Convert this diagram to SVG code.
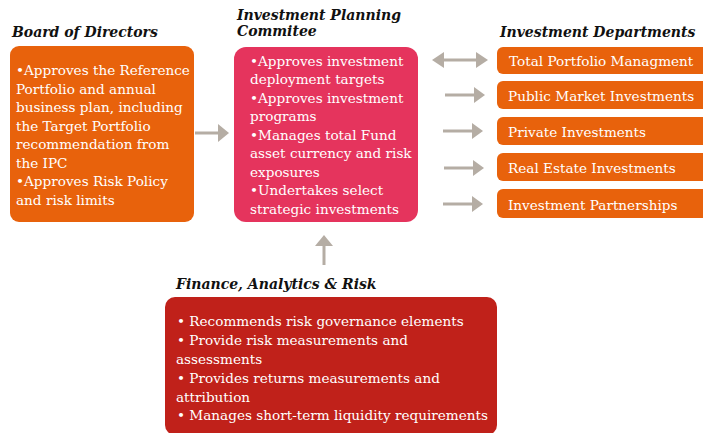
<svg xmlns="http://www.w3.org/2000/svg" width="703" height="433" viewBox="0 0 703 433">
<style>
.t{font-family:"DejaVu Serif","Liberation Serif",serif;font-size:13.6px;fill:#fff}
.h{font-family:"DejaVu Serif","Liberation Serif",serif;font-size:14px;font-weight:bold;font-style:italic;fill:#111}
.ln{stroke:#b5ada4;stroke-width:3;fill:none}
.hd{fill:#b5ada4}
</style>
<rect width="703" height="433" fill="#fff"/>
<g id="board">
<text class="h" x="12" y="37">Board of Directors</text>
<rect x="10" y="46" width="184" height="176" rx="9" fill="#e8620c"/>
<text class="t" x="16" y="75">•Approves the Reference</text>
<text class="t" x="16" y="94">Portfolio and annual</text>
<text class="t" x="16" y="112">business plan, including</text>
<text class="t" x="16" y="131">the Target Portfolio</text>
<text class="t" x="16" y="149">recommendation from</text>
<text class="t" x="16" y="168">the IPC</text>
<text class="t" x="16" y="186">•Approves Risk Policy</text>
<text class="t" x="16" y="205">and risk limits</text>
</g>
<g id="ipc">
<text class="h" x="237" y="20">Investment Planning</text>
<text class="h" x="237" y="36">Commitee</text>
<rect x="234" y="47" width="184" height="175" rx="12" fill="#e5345d"/>
<text class="t" x="250" y="66">•Approves investment</text>
<text class="t" x="250" y="84">deployment targets</text>
<text class="t" x="250" y="103">•Approves investment</text>
<text class="t" x="250" y="121">programs</text>
<text class="t" x="250" y="140">•Manages total Fund</text>
<text class="t" x="250" y="158">asset currency and risk</text>
<text class="t" x="250" y="177">exposures</text>
<text class="t" x="250" y="195">•Undertakes select</text>
<text class="t" x="250" y="214">strategic investments</text>
</g>
<g id="departments">
<text class="h" x="500" y="37">Investment Departments</text>
<g id="dept-total"><rect x="497" y="47" width="212" height="27" rx="6" fill="#e8620c"/><text class="t" x="509" y="66">Total Portfolio Managment</text></g>
<g id="dept-public"><rect x="497" y="81" width="212" height="28" rx="6" fill="#e8620c"/><text class="t" x="508" y="101">Public Market Investments</text></g>
<g id="dept-private"><rect x="497" y="117" width="212" height="28" rx="6" fill="#e8620c"/><text class="t" x="508" y="137">Private Investments</text></g>
<g id="dept-realestate"><rect x="497" y="153" width="212" height="28" rx="6" fill="#e8620c"/><text class="t" x="508" y="173">Real Estate Investments</text></g>
<g id="dept-partnerships"><rect x="497" y="189" width="212" height="29" rx="6" fill="#e8620c"/><text class="t" x="508" y="210">Investment Partnerships</text></g>
</g>
<g id="far">
<text class="h" x="176" y="289">Finance, Analytics &amp; Risk</text>
<rect x="165" y="297" width="332" height="138" rx="10" fill="#c0211a"/>
<text class="t" x="177" y="326">• Recommends risk governance elements</text>
<text class="t" x="177" y="345">• Provide risk measurements and</text>
<text class="t" x="176" y="364">assessments</text>
<text class="t" x="177" y="383">• Provides returns measurements and</text>
<text class="t" x="176" y="402">attribution</text>
<text class="t" x="177" y="420">• Manages short-term liquidity requirements</text>
</g>
<g id="connectors">
<line class="ln" x1="195" y1="133" x2="219" y2="133"/><polygon class="hd" points="218,124 229,133 218,142"/>
<line class="ln" x1="442" y1="60" x2="478" y2="60"/><polygon class="hd" points="444,52 432,60 444,68"/><polygon class="hd" points="476,52 488,60 476,68"/>
<line class="ln" x1="445" y1="95" x2="476" y2="95"/><polygon class="hd" points="474,87 485,95 474,103"/>
<line class="ln" x1="443" y1="131" x2="474" y2="131"/><polygon class="hd" points="472,123 483,131 472,139"/>
<line class="ln" x1="444" y1="168" x2="475" y2="168"/><polygon class="hd" points="473,160 484,168 473,176"/>
<line class="ln" x1="443" y1="204" x2="474" y2="204"/><polygon class="hd" points="472,196 483,204 472,212"/>
<line class="ln" x1="324" y1="265" x2="324" y2="244"/><polygon class="hd" points="315,246 324,235 333,246"/>
</g>
</svg>
